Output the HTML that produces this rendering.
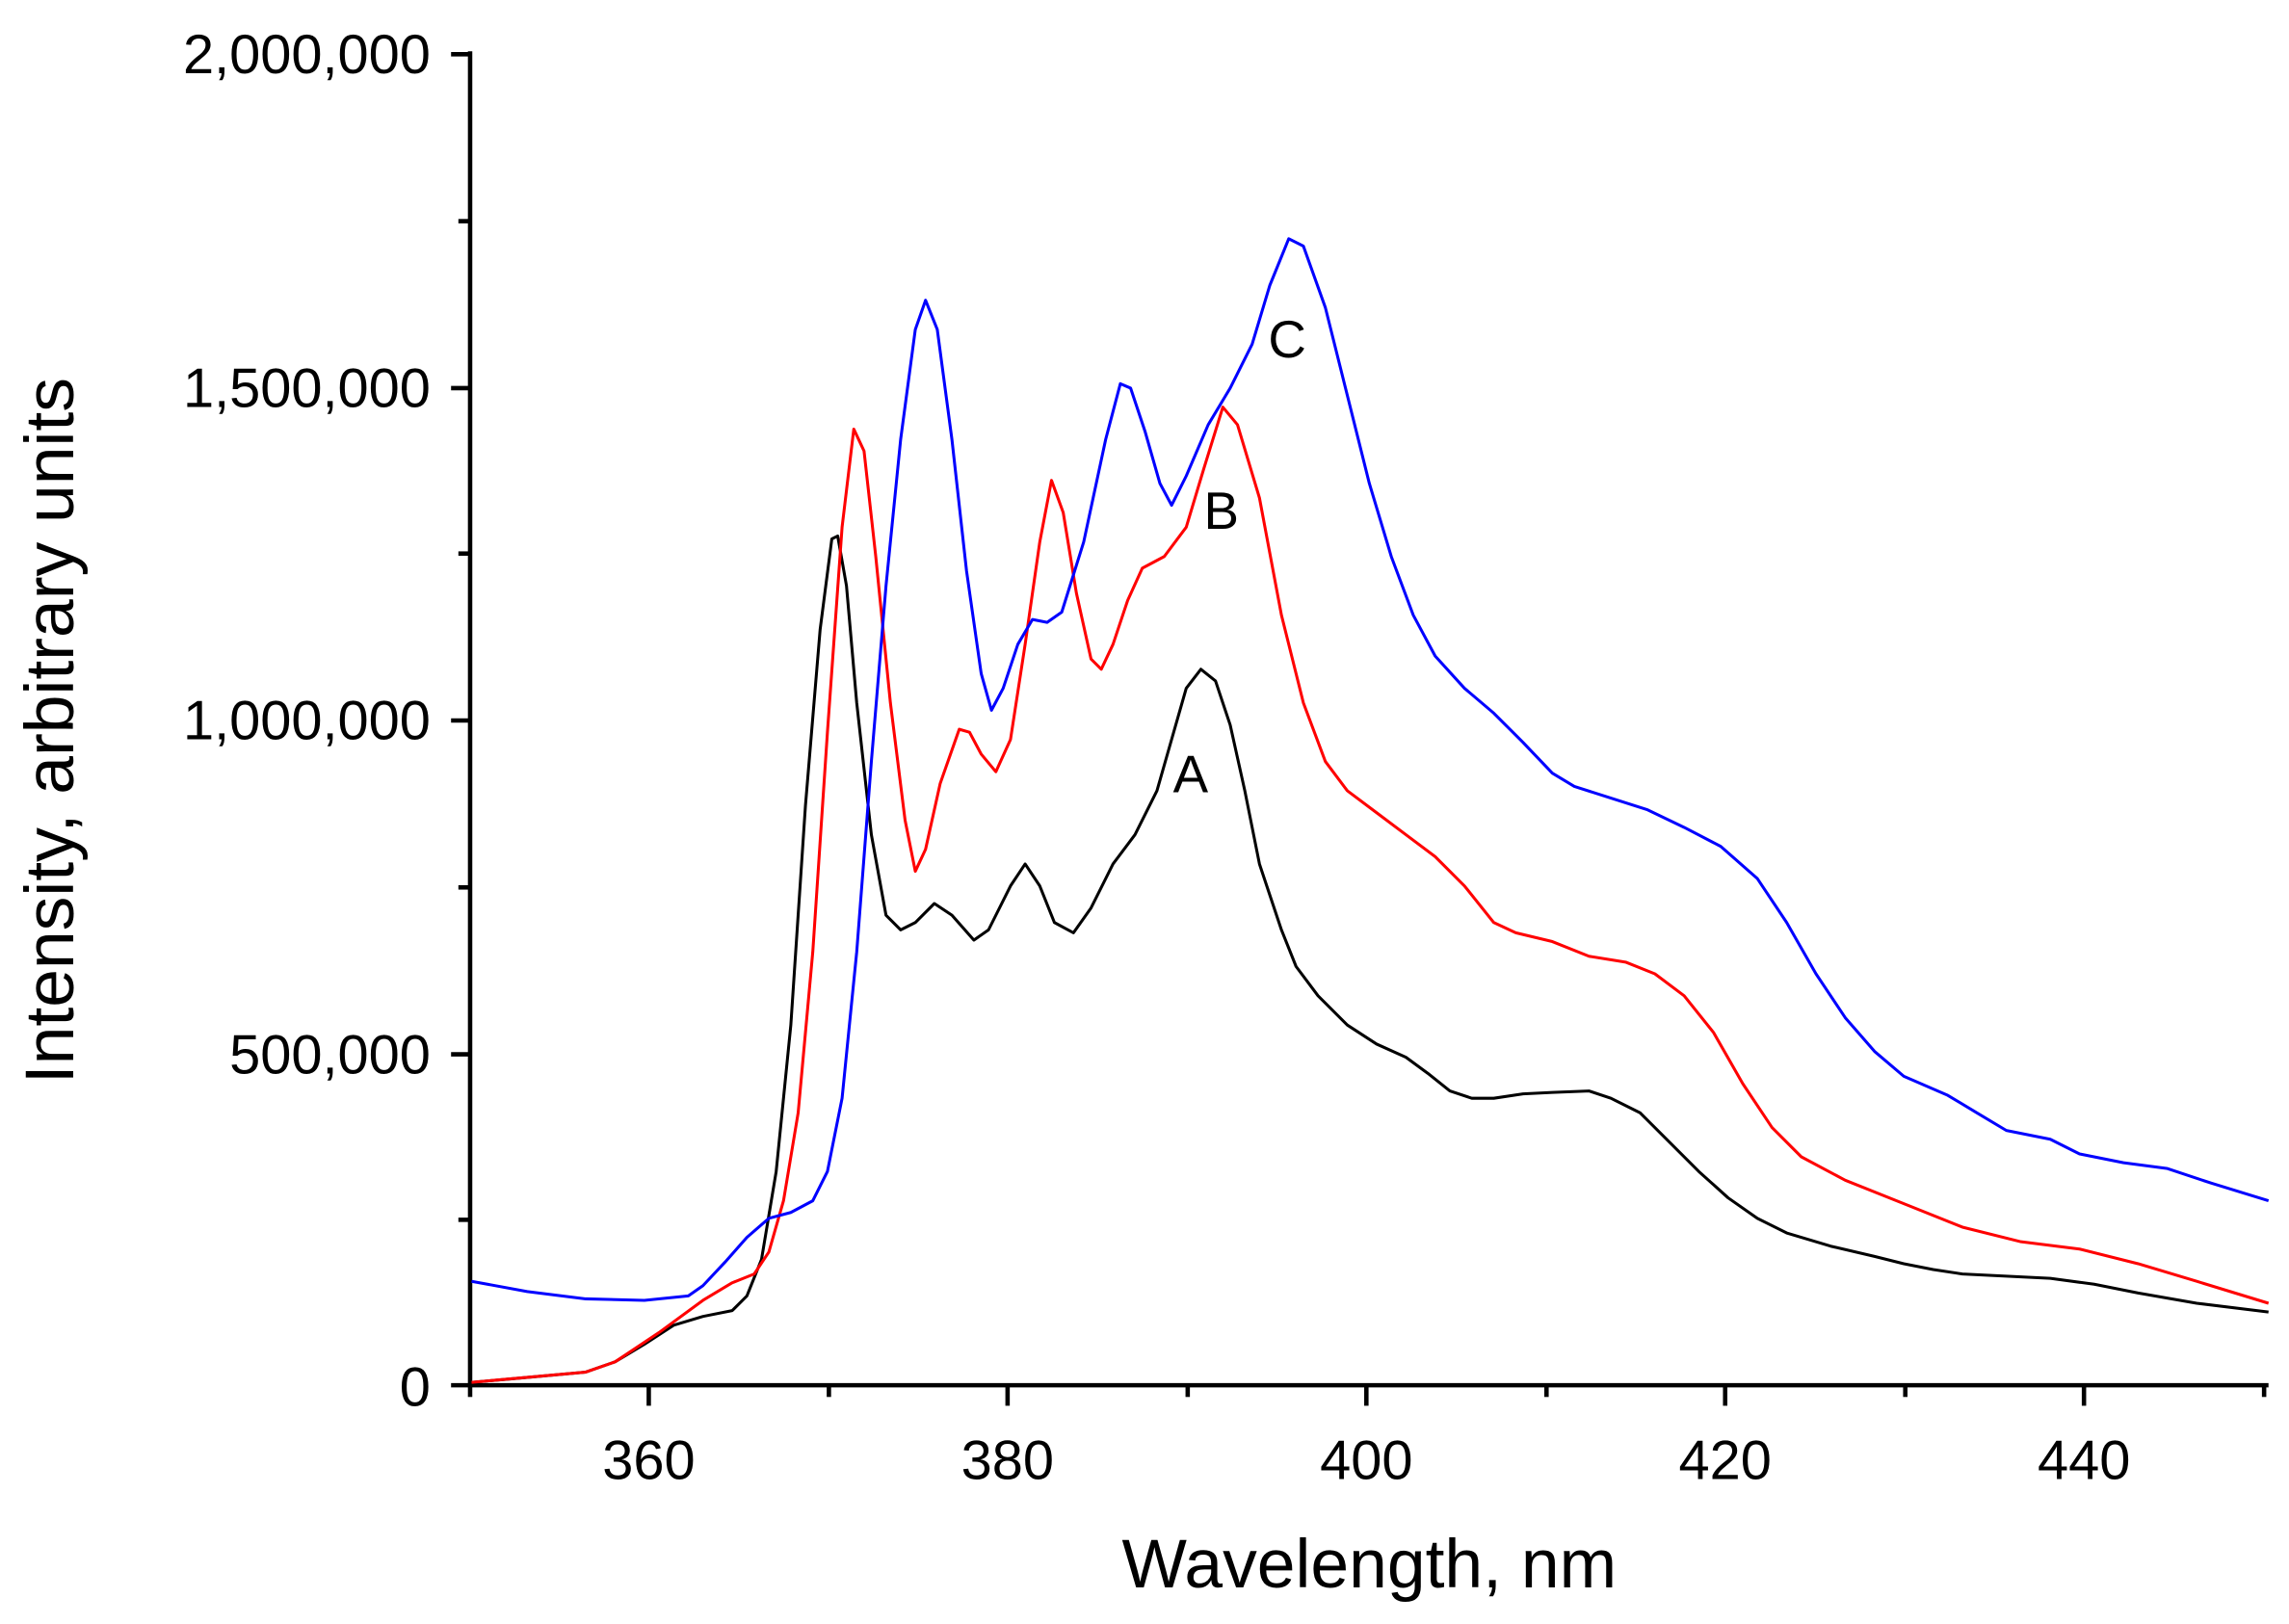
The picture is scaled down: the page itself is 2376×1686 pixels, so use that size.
<!DOCTYPE html>
<html><head><style>html,body{margin:0;padding:0;background:#fff}svg{display:block}</style></head>
<body>
<svg width="2376" height="1686" viewBox="0 0 1563 1109" xmlns="http://www.w3.org/2000/svg" font-family="Liberation Sans, Arial, sans-serif">
<rect width="1563" height="1109" fill="#fff"/>
<g stroke="#000" stroke-width="3" fill="none">
<line x1="321" y1="35" x2="321" y2="946"/>
<line x1="320" y1="946" x2="1549" y2="946"/>
<line x1="308" y1="37" x2="321" y2="37"/>
<line x1="308" y1="265" x2="321" y2="265"/>
<line x1="308" y1="492" x2="321" y2="492"/>
<line x1="308" y1="720" x2="321" y2="720"/>
<line x1="308" y1="946" x2="321" y2="946"/>
<line x1="313" y1="151" x2="321" y2="151"/>
<line x1="313" y1="378" x2="321" y2="378"/>
<line x1="313" y1="606" x2="321" y2="606"/>
<line x1="313" y1="833" x2="321" y2="833"/>
<line x1="443" y1="946" x2="443" y2="960"/>
<line x1="688" y1="946" x2="688" y2="960"/>
<line x1="933" y1="946" x2="933" y2="960"/>
<line x1="1178" y1="946" x2="1178" y2="960"/>
<line x1="1423" y1="946" x2="1423" y2="960"/>
<line x1="321" y1="946" x2="321" y2="954"/>
<line x1="566" y1="946" x2="566" y2="954"/>
<line x1="811" y1="946" x2="811" y2="954"/>
<line x1="1056" y1="946" x2="1056" y2="954"/>
<line x1="1301" y1="946" x2="1301" y2="954"/>
<line x1="1546" y1="946" x2="1546" y2="954"/>
</g>
<g font-size="38" text-anchor="end" fill="#000">
<text x="294" y="50">2,000,000</text>
<text x="294" y="278">1,500,000</text>
<text x="294" y="505">1,000,000</text>
<text x="294" y="733">500,000</text>
<text x="294" y="960">0</text>
</g>
<g font-size="38" text-anchor="middle" fill="#000">
<text x="443" y="1010">360</text>
<text x="688" y="1010">380</text>
<text x="933" y="1010">400</text>
<text x="1178" y="1010">420</text>
<text x="1423" y="1010">440</text>
</g>
<text x="935" y="1084" font-size="47" text-anchor="middle">Wavelength, nm</text>
<text transform="translate(50,499) rotate(-90)" font-size="47" text-anchor="middle">Intensity, arbitrary units</text>
<g font-size="36" fill="#000">
<text x="866" y="244">C</text>
<text x="822" y="361">B</text>
<text x="801" y="541">A</text>
</g>
<g fill="none" stroke-width="2" stroke-linejoin="round">
<polyline stroke="#000" points="322,944 345,942 400,937 420,930 440,918 460,905 480,899 500,895 510,885 520,860 530,800 540,700 550,550 560,430 568,368 572,366 578,400 585,480 595,570 605,625 615,635 625,630 638,617 650,625 665,642 675,635 690,605 700,590 710,605 720,630 733,637 745,620 760,590 775,570 790,540 800,505 810,470 820,457 830,465 840,495 850,540 860,590 875,635 885,660 900,680 920,700 940,713 960,722 975,733 990,745 1005,750 1020,750 1040,747 1060,746 1085,745 1100,750 1120,760 1140,780 1160,800 1180,818 1200,832 1220,842 1250,851 1280,858 1300,863 1320,867 1340,870 1360,871 1400,873 1430,877 1460,883 1500,890 1549,896"/>
<polyline stroke="#f00" points="322,944 400,937 420,930 450,910 480,888 500,876 515,870 525,855 535,820 545,760 555,650 565,500 575,360 583,293 590,308 598,380 608,480 618,560 625,595 632,580 642,535 655,498 662,500 670,515 680,527 690,505 700,440 710,370 718,328 726,350 735,405 745,450 752,457 760,440 770,410 780,388 795,380 810,360 822,320 835,278 845,290 860,340 875,420 890,480 905,520 920,540 940,555 960,570 980,585 1000,605 1020,630 1035,637 1060,643 1085,653 1110,657 1130,665 1150,680 1170,705 1190,740 1210,770 1230,790 1260,806 1300,822 1340,838 1380,848 1420,853 1460,863 1500,875 1549,890"/>
<polyline stroke="#00f" points="322,875 360,882 400,887 440,888 470,885 480,878 495,862 510,845 525,832 540,828 555,820 565,800 575,750 585,650 595,520 605,400 615,300 625,225 632,205 640,225 650,300 660,390 670,460 677,485 685,470 695,440 705,423 715,425 725,418 740,370 755,300 765,262 772,265 782,295 792,330 800,345 810,325 825,290 840,265 855,235 867,195 880,163 890,168 905,210 920,270 935,330 950,380 965,420 980,448 1000,470 1020,487 1040,507 1060,528 1075,537 1100,545 1125,553 1150,565 1175,578 1200,600 1220,630 1240,665 1260,695 1280,718 1300,735 1330,748 1350,760 1370,772 1400,778 1420,788 1450,794 1480,798 1510,808 1549,820"/>
</g>
</svg>
</body></html>
